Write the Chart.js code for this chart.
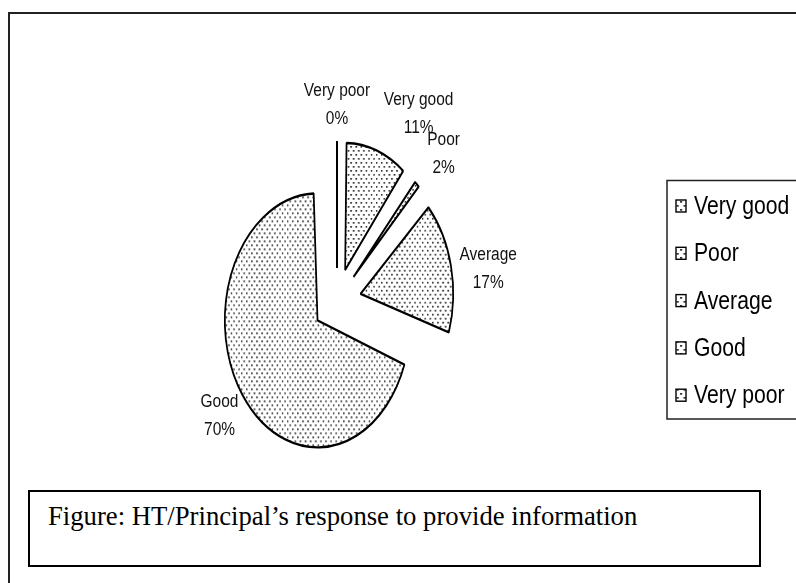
<!DOCTYPE html>
<html>
<head>
<meta charset="utf-8">
<script src="https://cdn.jsdelivr.net/npm/chart.js@4.4.1/dist/chart.umd.min.js"></script>
<style>
  html, body { margin: 0; padding: 0; background: #fff; overflow: hidden; }
  #stage { position: relative; width: 796px; height: 583px; overflow: hidden; background: #fff; }
  #frame { position: absolute; left: 8px; top: 12px; width: 900px; height: 700px;
           border-left: 2px solid #222; border-top: 2px solid #222; box-sizing: border-box; }
  #caption { position: absolute; left: 28px; top: 490px; width: 733px; height: 77px;
             border: 2px solid #000; box-sizing: border-box;
             font-family: "Liberation Serif", "Times New Roman", serif; font-size: 26.7px; color: #000; }
  #caption span { position: absolute; left: 18px; top: 9px; line-height: 30px; white-space: nowrap; }
  #c { position: absolute; left: 0; top: 0; }
</style>
</head>
<body>
<div id="stage">
  <div id="frame"></div>
  <div id="caption"><span id="captionText"></span></div>
  <canvas id="c" width="796" height="583"></canvas>
</div>
<script>
// ---------- data ----------
const categories = ['Very good', 'Poor', 'Average', 'Good', 'Very poor'];
const shares = [11, 2, 17, 70, 0];           // percent
const captionTitle = 'Figure: HT/Principal\u2019s response to provide information';

// ---------- style ----------
const X_SCALE = 0.73;     // pie drawn as a vertical ellipse
const EXPLODE = 33;       // px each slice is pulled out
const RADIUS = 127;
const LABEL_GAP = 13;
const LABEL_SIZE = 18;
const LABEL_SQUEEZE = 0.86;
const LABEL_LINE = 28;
const labelNudge = { 'Very good': [27, -3], 'Poor': [9, -4], 'Average': [0, 11] };
const LEGEND = { boxX: 676, textX: 694, y0: 206, step: 47.3, size: 25.5, squeeze: 0.83,
                 frameLeft: 667, frameTop: 180.5, frameBottom: 419 };
const SANS = '"Liberation Sans", Arial, sans-serif';

document.getElementById('captionText').textContent = captionTitle;

// dotted fill pattern
function makePattern() {
  const p = document.createElement('canvas');
  p.width = 7; p.height = 8;
  const g = p.getContext('2d');
  g.fillStyle = '#fff'; g.fillRect(0, 0, 7, 8);
  g.fillStyle = '#333';
  g.fillRect(1, 1, 2.2, 1.7);
  g.fillRect(4.5, 5, 2.2, 1.7);
  return g.createPattern(p, 'repeat');
}
const dotFill = makePattern();
const total = shares.reduce((a, b) => a + b, 0);

function drawSqueezed(ctx, text, x, y, squeeze, align) {
  ctx.save();
  ctx.translate(x, y);
  ctx.scale(squeeze, 1);
  ctx.textAlign = align;
  ctx.fillText(text, 0, 0);
  ctx.restore();
}

const piePlugin = {
  id: 'explodedEllipsePie',
  afterDatasetsUpdate(chart) {
    // Chart.js grows exploded arcs' radius by offset/4*(1-sin(circ)); undo so all slices share one radius
    chart.getDatasetMeta(0).data.forEach(arc => {
      const fix = 1 - Math.sin(Math.min(Math.PI, arc.circumference || 0));
      arc.outerRadius = RADIUS - EXPLODE * fix;
    });
  },
  beforeDatasetsDraw(chart) {
    const ctx = chart.ctx;
    const a = chart.getDatasetMeta(0).data[0];
    ctx.save();
    ctx.translate(a.x, 0);
    ctx.scale(X_SCALE, 1);
    ctx.translate(-a.x, 0);
  },
  afterDatasetsDraw(chart) {
    const ctx = chart.ctx;
    const meta = chart.getDatasetMeta(0);
    // zero-size slices appear as a single radial line
    meta.data.forEach((arc, i) => {
      if (shares[i] !== 0) return;
      const ang = arc.startAngle;
      ctx.beginPath();
      ctx.moveTo(arc.x + Math.cos(ang) * EXPLODE, arc.y + Math.sin(ang) * EXPLODE);
      ctx.lineTo(arc.x + Math.cos(ang) * (EXPLODE + RADIUS), arc.y + Math.sin(ang) * (EXPLODE + RADIUS));
      ctx.lineWidth = 2.8;
      ctx.strokeStyle = '#000';
      ctx.stroke();
    });
    ctx.restore();

    // data labels outside each slice
    ctx.save();
    ctx.font = LABEL_SIZE + 'px ' + SANS;
    ctx.fillStyle = '#111';
    ctx.textBaseline = 'middle';
    meta.data.forEach((arc, i) => {
      const mid = shares[i] === 0 ? arc.startAngle : (arc.startAngle + arc.endAngle) / 2;
      const c = Math.cos(mid), s = Math.sin(mid);
      const dist = EXPLODE + RADIUS + LABEL_GAP;
      const px = arc.x + c * dist * X_SCALE;
      const py = arc.y + s * dist;
      const name = categories[i];
      const pct = Math.round(shares[i] / total * 100) + '%';
      const w = Math.max(ctx.measureText(name).width, ctx.measureText(pct).width) * LABEL_SQUEEZE;
      const h = LABEL_LINE + LABEL_SIZE;
      let x = px + c * w / 2;
      let y = py + s * h / 2;
      const n = labelNudge[name];
      if (n) { x += n[0]; y += n[1]; }
      drawSqueezed(ctx, name, x, y - LABEL_LINE / 2, LABEL_SQUEEZE, 'center');
      drawSqueezed(ctx, pct, x, y + LABEL_LINE / 2, LABEL_SQUEEZE, 'center');
    });
    ctx.restore();
  },
  afterDraw(chart) {
    // legend (Arial-Narrow-like text)
    const ctx = chart.ctx;
    const labels = chart.data.labels;
    ctx.save();
    ctx.strokeStyle = '#222';
    ctx.lineWidth = 1.5;
    ctx.strokeRect(LEGEND.frameLeft, LEGEND.frameTop, chart.width + 20 - LEGEND.frameLeft, LEGEND.frameBottom - LEGEND.frameTop);
    ctx.font = LEGEND.size + 'px ' + SANS;
    ctx.textBaseline = 'middle';
    labels.forEach((lab, i) => {
      const cy = LEGEND.y0 + i * LEGEND.step;
      ctx.fillStyle = dotFill;
      ctx.fillRect(LEGEND.boxX, cy - 6, 10, 12);
      ctx.strokeStyle = '#000';
      ctx.lineWidth = 1.4;
      ctx.strokeRect(LEGEND.boxX, cy - 6, 10, 12);
      ctx.fillStyle = '#000';
      drawSqueezed(ctx, lab, LEGEND.textX, cy + 1, LEGEND.squeeze, 'left');
    });
    ctx.restore();
  }
};

new Chart(document.getElementById('c'), {
  type: 'pie',
  data: {
    labels: categories,
    datasets: [{
      data: shares,
      backgroundColor: dotFill,
      borderColor: '#000',
      borderWidth: 2.4,
      offset: shares.map(v => v === 0 ? 0 : 4 * EXPLODE),
      radius: RADIUS
    }]
  },
  options: {
    responsive: false,
    animation: false,
    events: [],
    radius: RADIUS,
    layout: { padding: { left: 0, top: 19, right: 122, bottom: 0 } },
    plugins: {
      tooltip: { enabled: false },
      legend: { display: false }
    }
  },
  plugins: [piePlugin]
});
</script>
</body>
</html>
